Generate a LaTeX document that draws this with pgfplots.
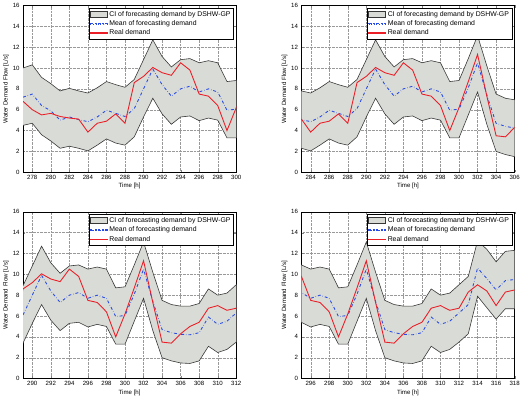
\documentclass[border=0pt]{standalone}
\usepackage{pgfplots}
\pgfplotsset{compat=1.18}
\usepackage{pgfplotstable}
\usepackage{fontspec}
\setmainfont{Liberation Sans}
\definecolor{cifill}{RGB}{217,220,214}
\definecolor{ciedge}{RGB}{55,55,55}
\definecolor{meanblue}{RGB}{40,75,230}
\definecolor{realred}{RGB}{235,30,40}
\pgfplotstableread{
t mean real
277 7.2 6.8
278 7.5 6.0
279 6.4 5.5
280 5.9 5.65
281 5.0 5.35
282 5.3 5.2
283 5.05 5.1
284 4.85 3.85
285 5.3 4.7
286 5.95 4.9
287 5.65 5.6
288 5.35 4.7
289 6.1 8.6
290 8.0 9.2
291 9.9 10.05
292 8.4 9.55
293 7.3 9.3
294 8.0 10.5
295 8.25 9.8
296 7.7 7.5
297 8.0 7.3
298 7.7 6.4
299 5.95 4.0
300 6.05 6.2
301 8.1 8.7
302 10.5 11.3
303 7.4 7.3
304 4.7 3.5
305 4.4 3.4
306 4.25 4.3
307 4.2 5.0
308 4.4 5.4
309 5.9 6.75
310 5.2 7.0
311 5.5 6.55
312 6.3 6.75
313 7.1 8.3
314 10.6 9.0
315 9.6 8.4
316 8.5 7.0
317 9.4 8.3
318 9.5 8.5
}\data
% CI band outline: upper bound forward, lower bound backward
\pgfplotstableread{
t v
277 10.0
278 10.3
279 9.1
280 8.5
281 7.8
282 8.05
283 7.8
284 7.6
285 8.1
286 8.7
287 8.4
288 8.15
289 8.9
290 10.8
291 12.7
292 11.1
293 10.1
294 10.8
295 10.9
296 10.5
297 10.7
298 10.5
299 8.7
300 8.8
301 10.9
302 13.1
303 10.2
304 7.5
305 7.1
306 6.95
307 6.95
308 7.2
309 8.6
310 8.0
311 8.2
312 9.0
313 9.8
314 13.2
315 12.4
316 11.2
317 12.2
318 12.3
318 6.7
317 6.7
316 5.7
315 6.8
314 7.9
313 4.3
312 3.5
311 2.8
310 2.5
309 3.1
308 1.7
307 1.45
306 1.5
305 1.7
304 2.0
303 4.6
302 7.7
301 5.5
300 3.3
299 3.3
298 5.0
297 5.2
296 4.95
295 5.4
294 5.3
293 4.6
292 5.6
291 7.1
290 5.3
289 3.4
288 2.6
287 2.8
286 3.2
285 2.6
284 2.05
283 2.3
282 2.5
281 2.3
280 3.0
279 3.6
278 4.7
277 4.5
}\band
\pgfplotsset{panel/.style={
  scale only axis, width=216bp, height=169bp,
  anchor=south west,
  ymin=0, ymax=16, ytick={0,2,...,16},
  grid=major, major grid style={densely dotted, gray!80, line width=0.3pt},
  tick align=inside, major tick length=2.5pt,
  /pgf/number format/assume math mode=true,
  tick label style={font=\fontsize{6.2}{7}\selectfont},
  xticklabel style={yshift=1pt},
  label style={font=\fontsize{6.2}{7}\selectfont},
  xlabel={Time [h]}, ylabel={Water Demand Flow [L/s]},
  xlabel style={yshift=2.5pt},
  ylabel style={yshift=-3pt},
  axis line style={line width=0.5pt},
  legend style={at={(rel axis cs:0.988,0.985)}, anchor=north east,
    font=\fontsize{7}{8}\selectfont,
    inner sep=1pt, row sep=-1pt, cells={anchor=west}},
  legend cell align=left,
}}
\newcommand{\panelplots}{%
\addplot[fill=cifill, draw=ciedge, line width=0.6pt,
  legend image code/.code={\draw[fill=cifill, draw=ciedge, line width=0.5pt, solid] (0cm,-0.09cm) rectangle (0.6cm,0.11cm);}]
  table[x=t,y=v]{\band};
\addlegendentry{CI of forecasting demand by DSHW-GP}
\addplot[meanblue, dash dot, line width=0.9pt,
  legend image code/.code={%
    \fill[meanblue] (0pt,-0.45pt) rectangle (3pt,0.45pt);
    \fill[meanblue] (5pt,-0.45pt) rectangle (5.9pt,0.45pt);
    \fill[meanblue] (7.9pt,-0.45pt) rectangle (10.9pt,0.45pt);
    \fill[meanblue] (12.9pt,-0.45pt) rectangle (13.8pt,0.45pt);
    \fill[meanblue] (15.8pt,-0.45pt) rectangle (17pt,0.45pt);}]
  table[x=t,y=mean]{\data};
\addlegendentry{Mean of forecasting demand}
\addplot[realred, line width=0.9pt,
  legend image code/.code={\fill[realred] (0pt,-0.45pt) rectangle (17pt,0.45pt);}]
  table[x=t,y=real]{\data};
\addlegendentry{Real demand}
}
\begin{document}
\begin{tikzpicture}
\begin{axis}[panel, at={(19bp,228bp)}, xmin=277, xmax=300, xtick={278,280,...,300}]
\panelplots
\end{axis}
\begin{axis}[panel, at={(301bp,228bp)}, xmin=283, xmax=306, xtick={284,286,...,306}]
\panelplots
\end{axis}
\begin{axis}[panel, at={(19bp,19bp)}, xmin=289, xmax=312, xtick={290,292,...,312}]
\panelplots
\end{axis}
\begin{axis}[panel, at={(301bp,19bp)}, xmin=295, xmax=318, xtick={296,298,...,318}]
\panelplots
\end{axis}
\path (0,0) rectangle (523bp,401bp);
\end{tikzpicture}
\end{document}
